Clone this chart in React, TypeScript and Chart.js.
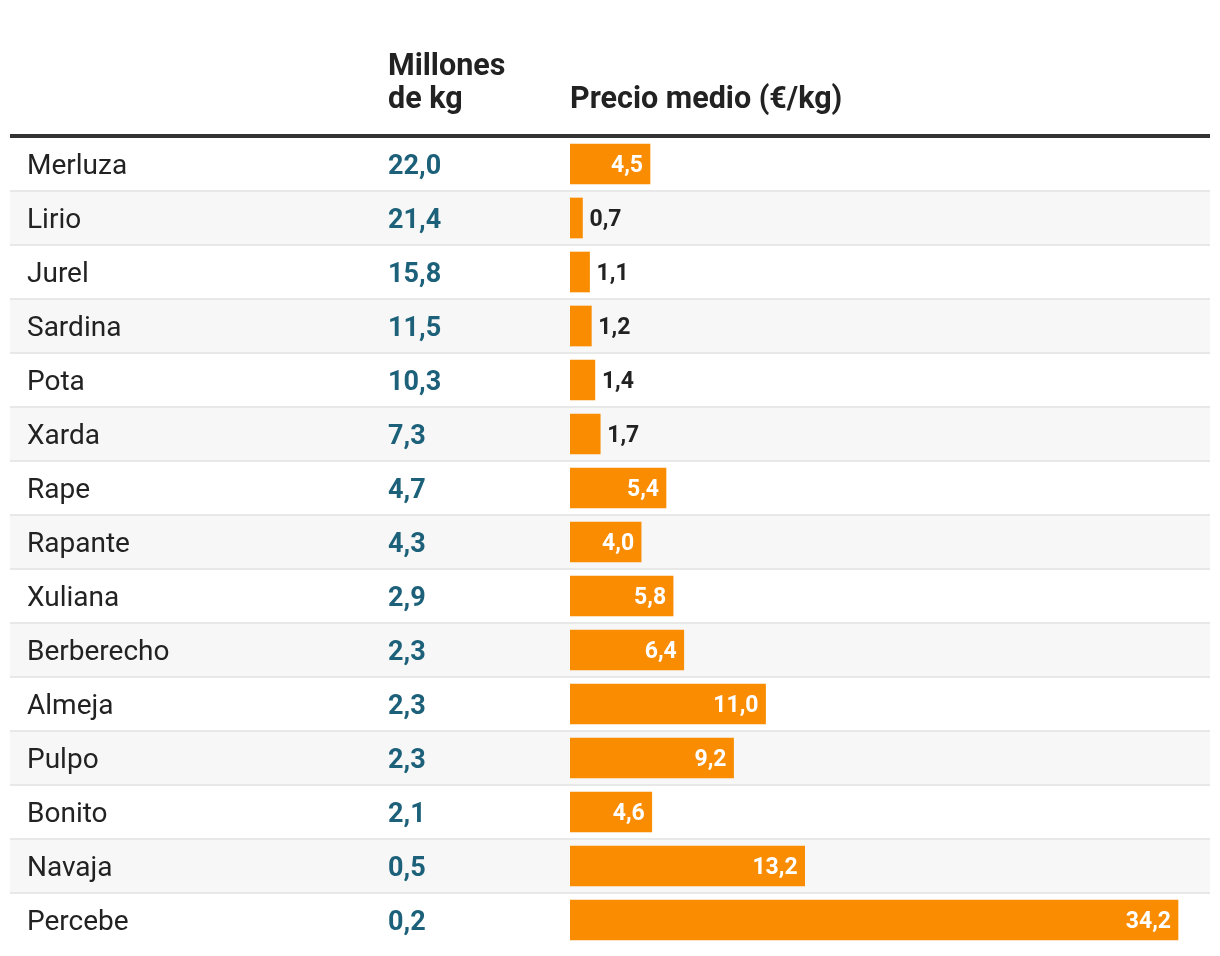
import React, { useEffect, useRef } from "react";
import { Chart, registerables } from "chart.js";

Chart.register(...registerables);

const species = [
  "Merluza", "Lirio", "Jurel", "Sardina", "Pota", "Xarda", "Rape", "Rapante",
  "Xuliana", "Berberecho", "Almeja", "Pulpo", "Bonito", "Navaja", "Percebe",
];
const volumes = [22.0, 21.4, 15.8, 11.5, 10.3, 7.3, 4.7, 4.3, 2.9, 2.3, 2.3, 2.3, 2.1, 0.5, 0.2];
const prices = [4.5, 0.7, 1.1, 1.2, 1.4, 1.7, 5.4, 4.0, 5.8, 6.4, 11.0, 9.2, 4.6, 13.2, 34.2];
const headerVolume = ["Millones", "de kg"];
const headerPrice = "Precio medio (€/kg)";

const FONT = "Roboto, 'Noto Sans', sans-serif";
const ORANGE = "#f98c00";
const BLUE = "#1c6179";
const DARK = "#222222";

const fmt = (v: number) => v.toFixed(1).replace(".", ",");

const tablePlugin = {
  id: "tablePlugin",
  beforeDatasetsDraw(chart: any) {
    const ctx = chart.ctx as CanvasRenderingContext2D;
    const y = chart.scales.y;
    const left = 10;
    const right = 1210;
    const rowH = y.getPixelForValue(1) - y.getPixelForValue(0);
    ctx.save();
    // row backgrounds
    species.forEach((_, i) => {
      const cy = y.getPixelForValue(i);
      const top = cy - rowH / 2;
      if (i % 2 === 1) {
        ctx.fillStyle = "#f7f7f7";
        ctx.fillRect(left, top, right - left, rowH);
      }
    });
    // separators
    species.forEach((_, i) => {
      if (i === 0) return;
      const top = y.getPixelForValue(i) - rowH / 2;
      ctx.fillStyle = "#e8e8e8";
      ctx.fillRect(left, top - 1, right - left, 2);
    });
    // heavy header line
    const top0 = y.getPixelForValue(0) - rowH / 2;
    ctx.fillStyle = "#333333";
    ctx.fillRect(left, top0 - 3, right - left, 4);

    // headers
    ctx.fillStyle = DARK;
    ctx.font = `bold 30.5px ${FONT}`;
    ctx.textAlign = "left";
    ctx.textBaseline = "alphabetic";
    ctx.fillText(headerVolume[0], 388, 75);
    ctx.fillText(headerVolume[1], 388, 108);
    ctx.fillText(headerPrice, chart.chartArea.left, 108);

    // names and volumes
    species.forEach((name, i) => {
      const cy = y.getPixelForValue(i);
      ctx.font = `28px ${FONT}`;
      ctx.fillStyle = DARK;
      ctx.fillText(name, 27, cy + 10);
      ctx.font = `bold 27px ${FONT}`;
      ctx.fillStyle = BLUE;
      ctx.fillText(fmt(volumes[i]), 388, cy + 10);
    });
    ctx.restore();
  },
  afterDatasetsDraw(chart: any) {
    const ctx = chart.ctx as CanvasRenderingContext2D;
    const meta = chart.getDatasetMeta(0);
    const x = chart.scales.x;
    ctx.save();
    ctx.font = `bold 23px ${FONT}`;
    ctx.textBaseline = "alphabetic";
    meta.data.forEach((bar: any, i: number) => {
      const label = fmt(prices[i]);
      const w = ctx.measureText(label).width;
      const x0 = x.getPixelForValue(0);
      const barW = bar.x - x0;
      const cy = bar.y + 8;
      if (barW > w + 14) {
        ctx.fillStyle = "#ffffff";
        ctx.textAlign = "right";
        ctx.fillText(label, bar.x - 7, cy);
      } else {
        ctx.fillStyle = DARK;
        ctx.textAlign = "left";
        ctx.fillText(label, bar.x + 7, cy);
      }
    });
    ctx.restore();
  },
};

export default function App() {
  const canvasRef = useRef<HTMLCanvasElement | null>(null);

  useEffect(() => {
    document.body.style.margin = "0";
    const canvas = canvasRef.current;
    if (!canvas) return;
    const chart = new Chart(canvas, {
      type: "bar",
      data: {
        labels: species,
        datasets: [
          {
            data: prices,
            backgroundColor: ORANGE,
            barThickness: 40,
            borderWidth: 0,
          },
        ],
      },
      options: {
        indexAxis: "y",
        animation: false,
        responsive: false,
        devicePixelRatio: 1,
        layout: { padding: { left: 570, right: 10, top: 137, bottom: 9 } },
        scales: {
          x: { min: 0, max: 36, display: false },
          y: { display: false, offset: true },
        },
        plugins: {
          legend: { display: false },
          tooltip: { enabled: false },
        },
      },
      plugins: [tablePlugin],
    });
    return () => chart.destroy();
  }, []);

  return (
    <div style={{ position: "absolute", left: 0, top: 0, width: 1220, height: 956, background: "#ffffff" }}>
      <canvas ref={canvasRef} width={1220} height={956} style={{ display: "block" }} />
    </div>
  );
}
